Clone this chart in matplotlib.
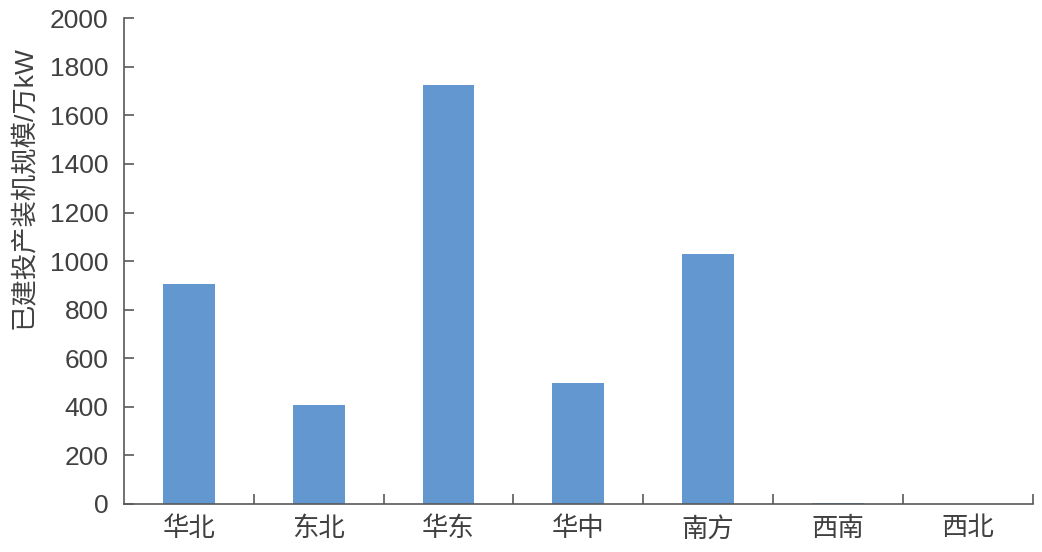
import matplotlib.pyplot as plt
import numpy as np

plt.rcParams['font.family'] = ['Liberation Sans', 'Noto Sans CJK SC']

### data
regions = ['华北', '东北', '华东', '华中', '南方', '西南', '西北']
capacity = [905, 408, 1725, 498, 1028, 6, 0]
yticks = np.arange(0, 2001, 200)

### figure
fig = plt.figure(figsize=(10.42, 5.52), dpi=100)
ax = fig.add_axes([0.119, 0.087, 0.872, 0.880])

x = np.arange(len(regions))
ax.bar(x, capacity, width=0.4, color='#6397D0')

ax.set_xlim(-0.5, len(regions) - 0.5)
ax.set_ylim(0, 2000)
ax.set_yticks(yticks)

# category labels centred, tick marks on the boundaries
ax.set_xticks(x)
ax.set_xticklabels(regions, fontsize=19, color='#404040')
ax.tick_params(axis='x', which='major', length=0, pad=9)
ax.set_xticks(np.arange(0.5, len(regions)), minor=True)
ax.tick_params(axis='x', which='minor', direction='in', length=7.5, width=1.2, color='#595959')
ax.tick_params(axis='y', direction='in', length=7.5, width=1.2, color='#595959',
               labelsize=19, labelcolor='#404040', pad=11)

for sp in ['top', 'right']:
    ax.spines[sp].set_visible(False)
for sp in ['left', 'bottom']:
    ax.spines[sp].set_color('#595959')
    ax.spines[sp].set_linewidth(1.2)

ax.set_ylabel('已建投产装机规模/万kW', fontsize=19, color='#404040')
ax.yaxis.set_label_coords(-0.097, 0.652)

fig.savefig('out.png', dpi=100)
